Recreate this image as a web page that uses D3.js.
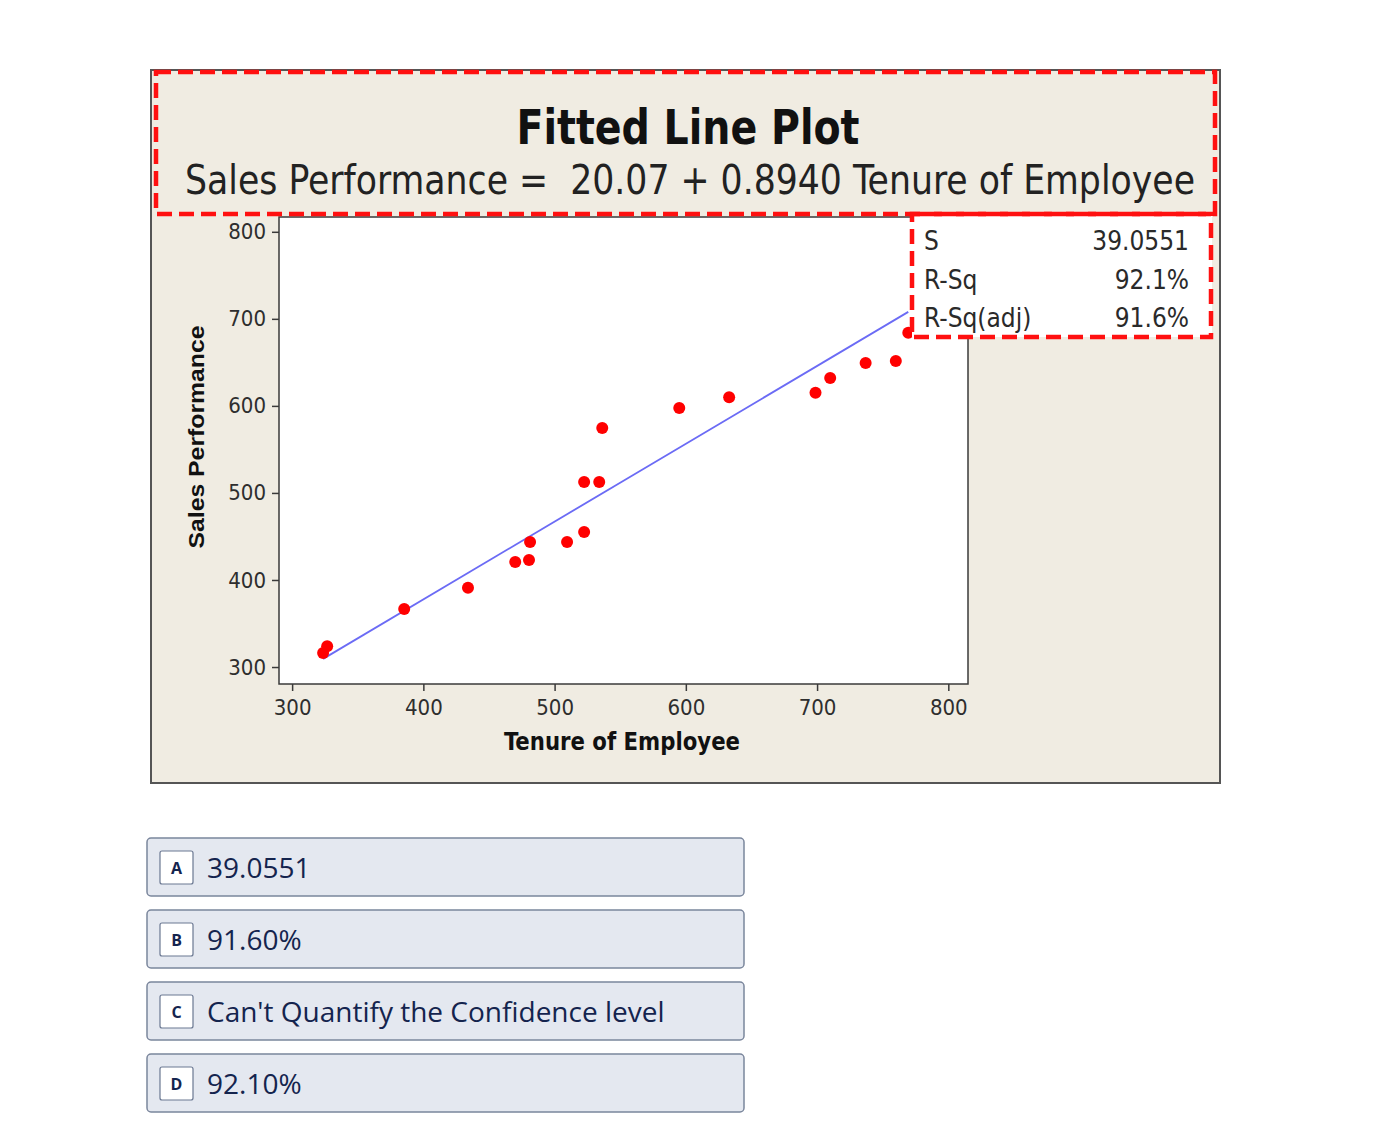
<!DOCTYPE html>
<html>
<head>
<meta charset="utf-8">
<script src="https://cdn.jsdelivr.net/npm/d3@7"></script>
<style>
  body { margin: 0; background: #fff; }
  #canvas { position: absolute; left: 0; top: 0; }
</style>
</head>
<body>
<div id="canvas"></div>
<script>
// data
var tenure = [323.6, 326.7, 385.4, 434, 470, 480.5, 481.3, 509.5, 522.5, 522.5, 534, 536.3, 595, 633, 698.8, 710, 737, 760, 769.5];
var sales  = [316, 324, 366.7, 391, 420.7, 423, 443.7, 443.7, 455, 512.6, 512.6, 574.7, 597.7, 610, 615, 632, 649.4, 651.7, 684];
var xTicks = [300, 400, 500, 600, 700, 800];
var yTicks = [300, 400, 500, 600, 700, 800];
var fitIntercept = 20.07;
var fitSlope = 0.8940;
var statLabels = ['S', 'R-Sq', 'R-Sq(adj)'];
var statValues = ['39.0551', '92.1%', '91.6%'];
var choiceKeys = ['A', 'B', 'C', 'D'];
var choiceTexts = ['39.0551', '91.60%', "Can't Quantify the Confidence level", '92.10%'];

var W = 1378, H = 1132;
var svg = d3.select('#canvas').append('svg')
  .attr('width', W)
  .attr('height', H);

var condensed = '"DejaVu Sans Condensed", "DejaVu Sans", sans-serif';

// outer panel
svg.append('rect')
  .attr('x', 151).attr('y', 70)
  .attr('width', 1069).attr('height', 713)
  .attr('fill', '#f0ece2')
  .attr('stroke', '#555').attr('stroke-width', 2);

// plot area
var plot = { left: 279, right: 968, top: 217, bottom: 684 };
var x = d3.scaleLinear().domain([290, 815]).range([plot.left, plot.right]);
var y = d3.scaleLinear().domain([280.5, 817]).range([plot.bottom, plot.top]);

svg.append('rect')
  .attr('x', plot.left).attr('y', plot.top)
  .attr('width', plot.right - plot.left).attr('height', plot.bottom - plot.top)
  .attr('fill', '#fff')
  .attr('stroke', '#3a3a3a').attr('stroke-width', 1.5);

var xAxis = svg.append('g')
  .attr('transform', 'translate(0,' + plot.bottom + ')')
  .call(d3.axisBottom(x).tickValues(xTicks).tickSize(7).tickPadding(8));
var yAxis = svg.append('g')
  .attr('transform', 'translate(' + plot.left + ',0)')
  .call(d3.axisLeft(y).tickValues(yTicks).tickSize(7).tickPadding(6));

[xAxis, yAxis].forEach(function (g) {
  g.select('.domain').remove();
  g.selectAll('line').attr('stroke', '#3a3a3a').attr('stroke-width', 1.5);
  g.selectAll('text')
    .attr('fill', '#2e2e2e')
    .style('font-family', condensed)
    .style('font-size', '22px');
});

// fitted line
var xMin = d3.min(tenure), xMax = d3.max(tenure);
svg.append('line')
  .attr('x1', x(xMin)).attr('y1', y(fitIntercept + fitSlope * xMin))
  .attr('x2', x(xMax)).attr('y2', y(fitIntercept + fitSlope * xMax))
  .attr('stroke', '#6b6bf5').attr('stroke-width', 1.8);

// points
svg.selectAll('circle.pt').data(d3.range(tenure.length))
  .enter().append('circle')
  .attr('class', 'pt')
  .attr('cx', function (i) { return x(tenure[i]); })
  .attr('cy', function (i) { return y(sales[i]); })
  .attr('r', 6)
  .attr('fill', '#ff0000');

// axis titles
svg.append('text')
  .attr('x', 622).attr('y', 750)
  .attr('text-anchor', 'middle')
  .attr('textLength', 236).attr('lengthAdjust', 'spacingAndGlyphs')
  .style('font-family', condensed).style('font-weight', 'bold').style('font-size', '25px')
  .attr('fill', '#111')
  .text('Tenure of Employee');

svg.append('text')
  .attr('transform', 'translate(204,437) rotate(-90)')
  .attr('text-anchor', 'middle')
  .attr('textLength', 223).attr('lengthAdjust', 'spacingAndGlyphs')
  .style('font-family', '"Liberation Sans", Arial, sans-serif').style('font-weight', 'bold').style('font-size', '22px')
  .attr('fill', '#111')
  .text('Sales Performance');

// title block
svg.append('text')
  .attr('x', 688).attr('y', 144)
  .attr('text-anchor', 'middle')
  .attr('textLength', 343).attr('lengthAdjust', 'spacingAndGlyphs')
  .style('font-family', condensed).style('font-weight', 'bold').style('font-size', '48px')
  .attr('fill', '#111')
  .text('Fitted Line Plot');

svg.append('text')
  .attr('x', 690).attr('y', 194)
  .attr('text-anchor', 'middle')
  .attr('textLength', 1010).attr('lengthAdjust', 'spacingAndGlyphs')
  .attr('xml:space', 'preserve')
  .style('font-family', condensed).style('font-size', '41px')
  .attr('fill', '#222')
  .text('Sales Performance =  20.07 + 0.8940 Tenure of Employee');

// stats box
svg.append('rect')
  .attr('x', 912).attr('y', 214)
  .attr('width', 300).attr('height', 123)
  .attr('fill', '#fff');

statLabels.forEach(function (lab, i) {
  var by = 250 + i * 38.5;
  svg.append('text')
    .attr('x', 924).attr('y', by)
    .style('font-family', condensed).style('font-size', '26px')
    .attr('fill', '#2a2a2a')
    .text(lab);
  svg.append('text')
    .attr('x', 1189).attr('y', by)
    .attr('text-anchor', 'end')
    .style('font-family', condensed).style('font-size', '26px')
    .attr('fill', '#2a2a2a')
    .text(statValues[i]);
});

// red dashed highlight boxes
svg.append('rect')
  .attr('x', 156).attr('y', 72)
  .attr('width', 1059).attr('height', 142)
  .attr('fill', 'none')
  .attr('stroke', '#ff1010').attr('stroke-width', 4.5)
  .attr('stroke-dasharray', '15,7');

svg.append('rect')
  .attr('x', 912).attr('y', 214)
  .attr('width', 299).attr('height', 123)
  .attr('fill', 'none')
  .attr('stroke', '#ff1010').attr('stroke-width', 4.5)
  .attr('stroke-dasharray', '15,7');

// answer choices
var choice = svg.selectAll('g.choice').data(d3.range(choiceKeys.length))
  .enter().append('g')
  .attr('class', 'choice')
  .attr('transform', function (i) { return 'translate(147,' + (838 + i * 72) + ')'; });

choice.append('rect')
  .attr('x', 0).attr('y', 0)
  .attr('width', 597).attr('height', 58)
  .attr('rx', 4)
  .attr('fill', '#e4e8f0')
  .attr('stroke', '#7a869c').attr('stroke-width', 1.5);

choice.append('rect')
  .attr('x', 13).attr('y', 13)
  .attr('width', 33).attr('height', 33)
  .attr('rx', 2)
  .attr('fill', '#fff')
  .attr('stroke', '#6b7892').attr('stroke-width', 1.2);

choice.append('text')
  .attr('x', 29.5).attr('y', 35.5)
  .attr('text-anchor', 'middle')
  .style('font-family', '"Open Sans", sans-serif').style('font-weight', 'bold').style('font-size', '16px')
  .attr('fill', '#14244e')
  .text(function (i) { return choiceKeys[i]; });

choice.append('text')
  .attr('x', 60).attr('y', 40)
  .style('font-family', '"Open Sans", sans-serif').style('font-size', '28px')
  .attr('fill', '#14244e')
  .text(function (i) { return choiceTexts[i]; });
</script>
</body>
</html>
